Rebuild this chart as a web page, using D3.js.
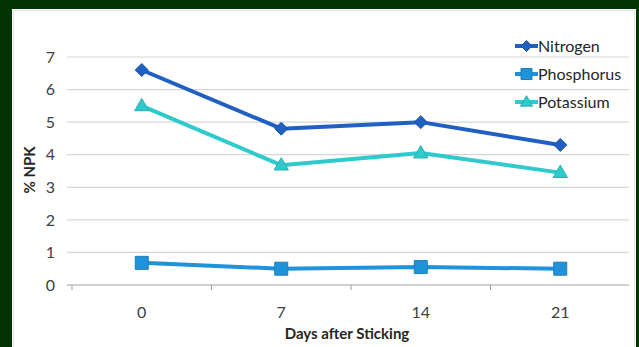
<!DOCTYPE html>
<html>
<head>
<meta charset="utf-8">
<script src="https://cdn.jsdelivr.net/npm/d3@7/dist/d3.min.js"></script>
<style>
  html, body { margin: 0; padding: 0; background: #023302; }
  svg { display: block; }
</style>
</head>
<body>
<svg id="chart" width="639" height="347"></svg>
<script>
// Days after sticking (categories)
const days = ["0", "7", "14", "21"];
// % NPK for each nutrient
const nitrogen = [6.6, 4.8, 5.0, 4.3];
const phosphorus = [0.68, 0.5, 0.55, 0.5];
const potassium = [5.5, 3.68, 4.05, 3.45];
const yTicks = [0, 1, 2, 3, 4, 5, 6, 7];

const series = [
  { name: "Nitrogen", values: nitrogen, color: "#1f60c2", marker: "diamond" },
  { name: "Phosphorus", values: phosphorus, color: "#1f93d9", marker: "square" },
  { name: "Potassium", values: potassium, color: "#2fcacb", marker: "triangle" }
];

const svg = d3.select("#chart");
const W = 639, H = 347;

// white chart panel on the green frame
svg.append("rect").attr("x", 12).attr("y", 9).attr("width", 624).attr("height", H - 9)
  .attr("fill", "#ffffff");
svg.append("rect").attr("x", 13.5).attr("y", 10.5).attr("width", 621).attr("height", H)
  .attr("fill", "none").attr("stroke", "#e4e4e4").attr("stroke-width", 1);

const plot = { left: 72, right: 630, top: 57, bottom: 285 };

const x = d3.scaleBand().domain(days).range([plot.left, plot.right]);
const y = d3.scaleLinear().domain([0, 7]).range([plot.bottom, plot.top]);

const font = "Lato, 'Open Sans', sans-serif";

// horizontal gridlines with small outside ticks
const grid = svg.append("g");
grid.selectAll("line").data(yTicks.filter(d => d > 0)).join("line")
  .attr("x1", plot.left - 5).attr("x2", 629)
  .attr("y1", d => y(d)).attr("y2", d => y(d))
  .attr("stroke", "#d6d6d6").attr("stroke-width", 1.2);

// y axis labels
svg.append("g").selectAll("text").data(yTicks).join("text")
  .attr("x", 55).attr("y", d => y(d)).attr("dy", "0.36em")
  .attr("text-anchor", "end")
  .attr("font-family", font).attr("font-size", 16).attr("fill", "#404040")
  .text(d => d);

// x axis baseline with tick marks at category boundaries
svg.append("line").attr("x1", plot.left - 5).attr("x2", 629)
  .attr("y1", plot.bottom).attr("y2", plot.bottom)
  .attr("stroke", "#a0a0a0").attr("stroke-width", 1.2);
const boundaries = days.map(d => x(d)).concat([x(days[days.length - 1]) + x.bandwidth()]);
svg.append("g").selectAll("line").data(boundaries.filter(b => b < 628)).join("line")
  .attr("x1", d => d).attr("x2", d => d)
  .attr("y1", plot.bottom).attr("y2", plot.bottom + 5)
  .attr("stroke", "#a0a0a0").attr("stroke-width", 1);

svg.append("g").selectAll("text").data(days).join("text")
  .attr("x", d => x(d) + x.bandwidth() / 2).attr("y", 318)
  .attr("text-anchor", "middle")
  .attr("font-family", font).attr("font-size", 16).attr("fill", "#404040")
  .text(d => d);

// axis titles
svg.append("text").attr("x", 347).attr("y", 339)
  .attr("text-anchor", "middle").attr("font-family", font).attr("font-weight", "bold")
  .attr("font-size", 15).attr("fill", "#262626").text("Days after Sticking");
svg.append("text").attr("transform", "translate(35,170) rotate(-90)")
  .attr("text-anchor", "middle").attr("font-family", font).attr("font-weight", "bold")
  .attr("font-size", 15).attr("fill", "#262626").text("% NPK");

// marker shapes
function markerPath(type, cx, cy, s) {
  if (type === "diamond") {
    return `M${cx},${cy - s}L${cx + s},${cy}L${cx},${cy + s}L${cx - s},${cy}Z`;
  }
  if (type === "square") {
    return `M${cx - s},${cy - s}H${cx + s}V${cy + s}H${cx - s}Z`;
  }
  return `M${cx},${cy - s * 1.15}L${cx + s * 1.1},${cy + s * 0.75}L${cx - s * 1.1},${cy + s * 0.75}Z`;
}
const markerSize = 6.5;

const cxOf = d => x(d) + x.bandwidth() / 2;
const line = d3.line().x((v, i) => cxOf(days[i])).y(v => y(v));

series.forEach(s => {
  const g = svg.append("g");
  g.append("path").datum(s.values).attr("d", line)
    .attr("fill", "none").attr("stroke", s.color).attr("stroke-width", 4)
    .attr("stroke-linejoin", "round");
  g.selectAll("path.m").data(s.values).join("path").attr("class", "m")
    .attr("d", (v, i) => markerPath(s.marker, cxOf(days[i]), y(v), markerSize))
    .attr("fill", s.color)
    .attr("stroke", d3.color(s.color).darker(0.4)).attr("stroke-width", 1);
});

// legend
const legend = svg.append("g");
series.forEach((s, i) => {
  const ly = 46 + i * 28;
  legend.append("line").attr("x1", 515).attr("x2", 538).attr("y1", ly).attr("y2", ly)
    .attr("stroke", s.color).attr("stroke-width", 4);
  legend.append("path").attr("d", markerPath(s.marker, 526.5, ly, 5.5))
    .attr("fill", s.color).attr("stroke", d3.color(s.color).darker(0.4)).attr("stroke-width", 1);
  legend.append("text").attr("x", 538).attr("y", ly).attr("dy", "0.35em")
    .attr("font-family", font).attr("font-size", 16).attr("fill", "#262626")
    .text(s.name);
});
</script>
</body>
</html>
